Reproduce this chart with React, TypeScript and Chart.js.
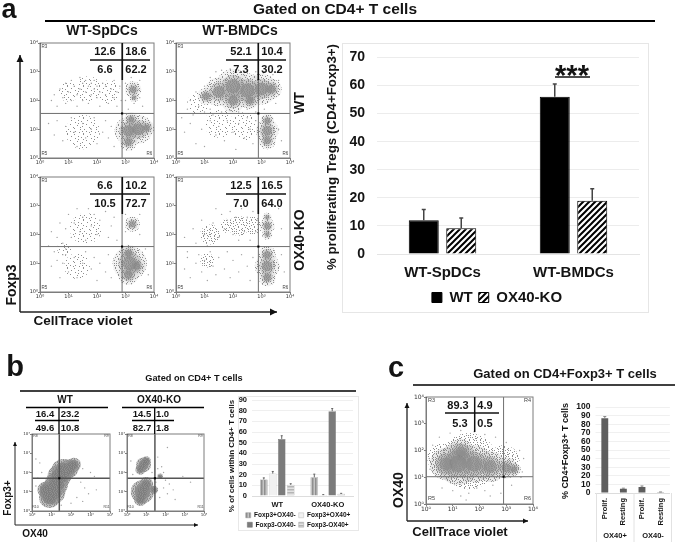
import React, { useEffect, useRef } from "react";
import { Chart, registerables } from "chart.js";
Chart.register(...registerables);

const decadeLabels = ["10⁰", "10¹", "10²", "10³", "10⁴"];

// ---- panel a bar chart
const aCats = ["WT-SpDCs", "WT-BMDCs"];
const aWT = [12, 56];
const aKO = [9.2, 19];
const aWTErr = [3.8, 4.5];
const aKOErr = [3.6, 4.2];

// ---- panel b bar chart
const bCats = ["WT", "OX40-KO"];
const bPosNeg = [15.5, 17.5];
const bPosPos = [21, 1];
const bNegNeg = [53.5, 79.5];
const bNegPos = [10.5, 2];
const bPosNegErr = [1.5, 3];
const bPosPosErr = [2, 0.3];
const bNegNegErr = [3, 2.5];
const bNegPosErr = [1, 0.5];

// ---- panel c bar chart
const cCats = ["Prolif.", "Resting", "Prolif.", "Resting"];
const cVals = [87, 5, 7, 1];
const cErr = [2, 0.6, 1.2, 0.2];

// ---- flow plots: [log x, log y] sparse events, [log x, log y, spread] populations
const a1Dots = [[.4,2.0],[.5,2.2],[.6,1.8],[.7,2.4],[.8,2.1],[.9,1.9],[.9,2.6],[1.0,2.3],[1.1,2.7],[1.1,2.0],[1.2,2.5],[1.3,1.8],[1.3,2.2],[1.4,2.8],[1.4,2.4],[1.5,2.6],[1.5,2.0],[1.6,2.3],[1.6,2.7],[1.7,2.5],[1.7,1.9],[1.8,2.2],[1.8,2.6],[1.9,2.4],[1.9,2.7],[2.0,2.1],[2.0,2.5],[2.1,2.3],[2.1,1.8],[2.2,2.6],[2.3,2.2],[2.3,2.5],[2.4,1.9],[2.5,2.4],[2.6,2.1],[2.6,2.7],[2.7,2.3],[2.7,1.8],[2.8,2.5],[2.85,2.0],[3.0,2.6],[3.0,2.0],[3.1,1.7],[3.2,2.8],[3.3,1.9],[3.5,2.7],[3.5,2.1],[3.6,1.8],[.3,1.2],[.5,.8],[.6,1.3],[.8,.6],[.9,1.1],[1.1,1.4],[1.2,.9],[1.3,.4],[1.5,1.2],[1.6,.7],[1.8,1.0],[1.9,1.4],[2.0,.5],[2.2,.9],[2.3,1.3],[2.4,.7],[2.5,1.1],[2.6,.4]];
const a1Pops = [[3.27,2.38,.24],[3.3,2.1,.13],[3.1,.95,.4],[3.45,1.0,.42],[3.75,1.05,.22],[3.1,.55,.25],[3.2,1.35,.2]];
const a1Faint = [[1.7,2.4,.45],[1.0,2.3,.35],[2.4,2.3,.4],[1.5,.9,.6]];
const a2Dots = [[.2,1.4],[.4,1.7],[.5,2.0],[.6,1.5],[.7,2.3],[.8,1.8],[.9,2.1],[1.0,1.6],[1.0,2.5],[1.1,2.0],[1.2,1.7],[1.2,2.8],[1.4,3.0],[1.6,3.05],[1.9,3.1],[2.2,3.05],[2.5,3.0],[2.8,3.0],[3.1,3.0],[3.4,2.9],[3.6,2.7],[3.6,2.2],[3.5,1.9],[1.3,1.5],[1.6,1.6],[1.9,1.65],[2.2,1.6],[2.5,1.7],[2.8,1.6],[3.1,1.7],[.3,.9],[.5,1.2],[.7,.5],[.9,1.0],[1.0,.4],[1.2,1.3],[1.4,.8],[1.5,1.1],[1.7,.6],[1.8,1.3],[2.0,.9],[2.1,.3],[2.2,1.2],[2.4,.7],[2.5,1.4],[2.6,1.0],[2.7,.5],[2.8,1.3],[3.6,1.0],[3.7,.6]];
const a2Pops = [[2.0,2.5,.5],[1.5,2.3,.42],[2.5,2.35,.5],[3.0,2.4,.45],[3.35,2.4,.3],[2.0,2.0,.35],[1.05,2.15,.25],[2.6,2.0,.25],[3.2,.6,.25],[3.2,.95,.33],[3.2,1.3,.2]];
const a2Faint = [[1.5,1.2,.5],[.8,1.9,.4],[2.4,1.1,.5]];
const a3Dots = [[.3,1.6],[.4,2.1],[.5,1.4],[.6,1.9],[.7,2.4],[.8,1.3],[.8,1.7],[.9,1.5],[.9,2.2],[1.0,2.7],[1.1,1.9],[1.2,2.4],[1.3,2.9],[1.4,2.1],[1.5,2.6],[1.6,1.8],[1.7,2.9],[1.8,2.3],[1.9,2.7],[2.0,2.0],[2.1,2.5],[2.3,2.8],[2.4,1.9],[2.5,2.3],[2.6,2.6],[2.7,1.8],[3.0,2.1],[3.0,2.7],[3.5,2.0],[3.5,2.7],[.4,.9],[.6,1.1],[.7,.5],[.8,1.0],[.9,1.3],[1.0,.7],[1.2,1.2],[1.3,.5],[1.5,1.0],[1.6,1.4],[1.8,.8],[1.9,1.2],[2.0,.4],[2.1,1.0],[2.3,.7],[2.4,1.3],[2.5,.5],[2.6,1.1],[3.7,1.5],[3.8,.6]];
const a3Pops = [[3.24,2.36,.22],[3.15,1.0,.5],[3.1,.6,.3],[3.1,1.35,.25],[3.4,.9,.25]];
const a3Faint = [[1.6,2.2,.55],[1.3,.9,.45],[.85,1.5,.25]];
const a4Dots = [[.3,1.9],[.4,1.4],[.6,2.2],[.7,1.7],[.9,2.5],[1.0,2.0],[1.1,1.6],[1.3,2.4],[1.4,2.9],[1.5,1.9],[1.6,2.7],[1.7,2.2],[1.8,2.5],[1.9,2.8],[2.0,2.0],[2.1,2.6],[2.2,1.8],[2.3,2.9],[2.4,2.1],[2.5,2.6],[2.6,1.8],[2.7,2.8],[2.8,2.1],[2.85,2.5],[3.6,2.9],[3.7,2.2],[.3,.8],[.4,1.2],[.5,.5],[.7,1.0],[.8,1.3],[.9,.7],[1.0,1.1],[1.1,.4],[1.2,1.4],[1.3,.9],[1.4,.6],[1.5,1.2],[1.7,.8],[1.8,1.4],[1.9,.5],[2.0,1.1],[2.2,.7],[2.3,1.3],[2.5,.9],[2.6,.4],[2.7,1.2],[3.7,1.3],[3.8,.7]];
const a4Pops = [[3.2,2.3,.22],[3.2,2.6,.13],[3.2,2.0,.15],[3.2,.9,.36],[3.2,.5,.25],[3.2,1.3,.25]];
const a4Faint = [[2.2,2.3,.35],[2.7,2.3,.32],[1.8,2.3,.25],[1.1,1.1,.25],[1.2,2.0,.35]];
const b1Dots = [[.2,2.7],[.4,2.5],[.5,2.0],[2.5,1.5],[2.7,1.2],[2.9,.9],[2.3,.7],[2.6,.5],[3.3,1.1],[3.0,2.0],[3.2,1.8],[2.6,2.2],[1.5,.3],[2.0,.4],[.3,1.7],[.2,1.3]];
const b1Pops = [[.9,.7,.45],[1.05,1.0,.55],[1.25,1.4,.5],[1.4,1.8,.5],[1.6,2.1,.5],[1.9,2.2,.4],[2.15,2.4,.3],[.7,1.1,.35]];
const b2Dots = [[1.6,2.8],[2.1,3.3],[1.8,2.3],[1.9,2.0],[2.0,1.6],[1.9,1.2],[2.1,.9],[1.7,.7],[2.2,1.4],[2.4,1.1],[2.5,.6],[3.3,1.5],[2.9,1.8],[1.5,1.5],[.2,2.6],[.3,1.9],[1.3,2.0],[1.6,2.2]];
const b2Pops = [[.86,2.4,.32],[.7,2.15,.22],[1.0,2.6,.2],[.8,1.0,.5],[1.0,1.4,.3],[.7,.6,.28],[1.72,1.8,.12],[1.4,1.1,.18]];
const cDots = [[.25,2.2],[.5,2.5],[.6,.6],[1.0,.5],[1.3,.3],[1.6,.4],[1.9,.6],[2.2,.5],[2.5,.7],[2.8,.4],[3.2,.7],[3.6,1.2],[3.65,1.7],[3.5,2.0],[3.0,2.3],[2.6,2.5],[2.2,2.6],[1.8,2.7],[1.3,2.75],[.9,2.65],[.15,1.3],[.12,1.7],[3.55,1.0],[1.5,.15],[2.4,.3]];
const cPops = [[1.2,1.5,.65],[.75,1.5,.5],[1.8,1.5,.58],[2.4,1.4,.48],[3.0,1.35,.33],[3.3,1.3,.2],[1.3,1.95,.4]];
const cFaint = [[1.6,1.6,1.05],[.6,1.7,.55],[2.9,1.6,.6]];

// ---- numbers printed over the flow plots (UL, UR, LL, LR)
const aPercents = [["12.6","18.6","6.6","62.2"],["52.1","10.4","7.3","30.2"],["6.6","10.2","10.5","72.7"],["12.5","16.5","7.0","64.0"]];
const bPercents = [["16.4","23.2","49.6","10.8"],["14.5","1.0","82.7","1.8"]];
const cPercents = ["89.3","4.9","5.3","0.5"];

const FONT = '"Liberation Sans", Arial, sans-serif';
const INK = "#141414";

// grain texture used to fill a population: digit = lowest density level at which that pixel is set
const GRAIN = [
  "1.3.2..4.1.3..2.",
  "..4..3.2...4.3..",
  ".2..1...3.2..1.4",
  "3..4.2.1..4.3...",
  ".1...3..4..2.4.2",
  "4.2.1..3.1...3..",
  "..3..4.2..3.1..4",
  ".4.1...3.4..2.3.",
  "2..3.2..1..3..4.",
  ".3..4.1.3.2.4..1",
  "1.2...3..4...2.3",
  "..4.3.1.2.1.3...",
  "3...2..4..3..4.2",
  ".1.4..3.1.2.1...",
  "2..3.1..3..4.3.1",
  ".4..2.4..1...2..",
];

function grain(level: number, wash: number) {
  const c = document.createElement("canvas");
  c.width = 16; c.height = 16;
  const g = c.getContext("2d")!;
  g.fillStyle = `rgba(125,125,125,${wash})`;
  g.fillRect(0, 0, 16, 16);
  g.fillStyle = "#8e8e8e";
  GRAIN.forEach((row, y) => row.split("").forEach((ch, x) => {
    if (ch !== "." && Number(ch) <= level) g.fillRect(x, y, 1, 1);
  }));
  return g.createPattern(c, "repeat")!;
}

function pattern(kind: string, fg: string, bg: string) {
  const c = document.createElement("canvas");
  const size = kind === "diag" ? 6 : 3;
  c.width = size; c.height = size;
  const g = c.getContext("2d")!;
  g.fillStyle = bg; g.fillRect(0, 0, size, size);
  g.strokeStyle = fg;
  if (kind === "diag") {
    g.lineWidth = 2;
    g.beginPath();
    g.moveTo(-1, 7); g.lineTo(7, -1);
    g.moveTo(-1, 1); g.lineTo(1, -1);
    g.moveTo(5, 7); g.lineTo(7, 5);
    g.stroke();
  } else if (kind === "v") {
    g.fillStyle = fg; g.fillRect(0, 0, 1.5, size);
  } else {
    g.fillStyle = fg; g.fillRect(0, 0, size, 1.5);
  }
  return g.createPattern(c, "repeat")!;
}

const errorBars = {
  id: "errorBars",
  afterDatasetsDraw(chart: any) {
    const g = chart.ctx;
    const y = chart.scales.y;
    chart.data.datasets.forEach((ds: any, i: number) => {
      if (!ds.errors) return;
      chart.getDatasetMeta(i).data.forEach((bar: any, j: number) => {
        const top = y.getPixelForValue(ds.data[j] + ds.errors[j]);
        const base = y.getPixelForValue(ds.data[j]);
        g.save();
        g.strokeStyle = ds.errorColor; g.lineWidth = ds.errorWidth;
        g.beginPath();
        g.moveTo(bar.x, base); g.lineTo(bar.x, top);
        g.moveTo(bar.x - ds.errorCap, top); g.lineTo(bar.x + ds.errorCap, top);
        g.stroke();
        g.restore();
      });
    });
  },
};

const frame = {
  id: "frame",
  afterDatasetsDraw(chart: any) {
    const a = chart.chartArea, g = chart.ctx;
    g.save(); g.strokeStyle = "#7d7d7d"; g.lineWidth = 1;
    g.strokeRect(a.left, a.top, a.right - a.left, a.bottom - a.top);
    g.restore();
  },
};

function ChartCanvas({ left, top, width, height, make }: any) {
  const ref = useRef<HTMLCanvasElement>(null);
  useEffect(() => {
    const chart = new Chart(ref.current!, make());
    return () => chart.destroy();
  }, []);
  return (
    <div style={{ position: "absolute", left, top, width, height }}>
      <canvas ref={ref} width={width} height={height} style={{ display: "block", width, height }} />
    </div>
  );
}

const spareRightAxis = (w: number) => ({
  position: "right", display: true, afterFit: (s: any) => { s.width = w; },
  grid: { display: false, drawTicks: false }, border: { display: false }, ticks: { display: false },
});

function flowConfig(dots: number[][], pops: number[][], faint: number[][], gate: number[], size: number, density: number, faintLevel: number, tickSize: number, gateWidth: number, gateColor: string, pad: any) {
  const perDecade = size / 4;
  const layer = (list: number[][], f: number, fill: any) => ({
    type: "bubble",
    data: list.map(([x, y, s]) => ({ x, y, r: s * perDecade * f })),
    backgroundColor: fill,
    borderWidth: 0,
  });
  const fills = [
    [grain(2, 0.1), grain(3, 0.28), grain(4, 0.55)],
    [grain(3, 0.16), grain(4, 0.32), grain(4, 0.5)],
    [grain(4, 0.5), grain(4, 0.75), grain(4, 0.9)],
  ][density];
  return {
    type: "scatter",
    data: {
      datasets: [
        { data: [{ x: gate[0], y: gate[1] }, { x: 0, y: 4 }], pointStyle: "rect", pointRadius: 1.5, backgroundColor: "#000", borderWidth: 0 },
        { data: [{ x: gate[0], y: 0 }, { x: gate[0], y: 4 }], showLine: true, pointRadius: 0, borderColor: gateColor, borderWidth: gateWidth },
        { data: [{ x: 0, y: gate[1] }, { x: 4, y: gate[1] }], showLine: true, pointRadius: 0, borderColor: gateColor, borderWidth: gateWidth },
        { data: dots.map(([x, y]) => ({ x, y })), pointRadius: 0.7, backgroundColor: "#a2a2a2", borderWidth: 0 },
        layer(pops, 0.5, fills[2]), layer(pops, 0.8, fills[1]), layer(pops, 1.2, fills[0]),
        layer(faint, 1, grain(faintLevel, 0)),
      ],
    },
    plugins: [frame],
    options: {
      animation: false, responsive: false,
      layout: { autoPadding: false, padding: { top: pad.top, right: pad.right, left: 0, bottom: 0 } },
      plugins: { legend: { display: false }, tooltip: { enabled: false } },
      scales: {
        x: { type: "linear", min: 0, max: 4, afterFit: (s: any) => { s.height = pad.bottom; },
          grid: { drawOnChartArea: false, tickLength: 2, color: "#7d7d7d" }, border: { color: "#7d7d7d" },
          ticks: { stepSize: 1, autoSkip: false, maxRotation: 0, padding: 0, color: "#333", font: { size: tickSize, family: "DejaVu Sans" }, callback: (v: number) => decadeLabels[v] } },
        y: { type: "linear", min: 0, max: 4, afterFit: (s: any) => { s.width = pad.left; },
          grid: { drawOnChartArea: false, tickLength: 2, color: "#7d7d7d" }, border: { color: "#7d7d7d" },
          ticks: { stepSize: 1, autoSkip: false, padding: 0, color: "#333", font: { size: tickSize, family: "DejaVu Sans" }, callback: (v: number) => decadeLabels[v] } },
      },
    },
  };
}

function Flow({ x, y, w, h, dots, pops, faint = [], gate, density = 0, faintLevel = 1, tick = 5, gateWidth = 1, gateColor = "#6f6f6f" }: any) {
  const pad = { top: 5, right: 8, left: 14, bottom: 12 };
  return (
    <ChartCanvas left={x - pad.left} top={y - pad.top} width={w + pad.left + pad.right} height={h + pad.top + pad.bottom}
      make={() => flowConfig(dots, pops, faint, gate, w, density, faintLevel, tick, gateWidth, gateColor, pad)} />
  );
}

function Txt({ x, y, s, size, rot = 0, weight = 700, color = INK, family = FONT }: any) {
  return (
    <div style={{ position: "absolute", left: x, top: y, transform: `translate(-50%,-50%) rotate(${rot}deg)`, font: `${weight} ${size}px ${family}`, color, whiteSpace: "nowrap", lineHeight: 1 }}>{s}</div>
  );
}

function barA() {
  return {
    type: "bar",
    data: {
      labels: aCats,
      datasets: [
        { label: "WT", data: aWT, errors: aWTErr, backgroundColor: "#000", borderColor: "#000", borderWidth: 1, categoryPercentage: 0.5725, barPercentage: 0.8, errorColor: "#444", errorWidth: 1.5, errorCap: 2 },
        { label: "OX40-KO", data: aKO, errors: aKOErr, backgroundColor: pattern("diag", "#000", "#fff"), borderColor: "#000", borderWidth: 1, categoryPercentage: 0.5725, barPercentage: 0.8, errorColor: "#444", errorWidth: 1.5, errorCap: 2 },
      ],
    },
    plugins: [errorBars],
    options: {
      animation: false, responsive: false,
      layout: { autoPadding: false, padding: { top: 3, right: 0, left: 0, bottom: 0 } },
      plugins: { tooltip: { enabled: false }, legend: { position: "bottom", labels: { color: INK, boxWidth: 10, boxHeight: 10, padding: 6, font: { size: 15, weight: "bold", family: FONT } } } },
      scales: {
        x: { afterFit: (s: any) => { s.height = 30; }, grid: { display: false, drawTicks: false }, border: { color: "#e4e4e4" }, ticks: { color: INK, padding: 10, font: { size: 15, weight: "bold", family: FONT } } },
        y: { min: 0, max: 70, afterFit: (s: any) => { s.width = 55; }, grid: { color: "#ececec", tickLength: 0 }, border: { display: false }, ticks: { stepSize: 10, color: INK, padding: 12, font: { size: 14, weight: "bold", family: FONT } } },
        y2: spareRightAxis(33),
      },
    },
  };
}

function barB() {
  const common = { categoryPercentage: 0.71, barPercentage: 0.85, borderWidth: 0.5, errorColor: "#666", errorWidth: 1, errorCap: 1 };
  return {
    type: "bar",
    data: {
      labels: bCats,
      datasets: [
        { ...common, label: "Foxp3+OX40-", data: bPosNeg, errors: bPosNegErr, backgroundColor: pattern("v", "#8f8f8f", "#c4c4c4"), borderColor: "#8a8a8a" },
        { ...common, label: "Foxp3+OX40+", data: bPosPos, errors: bPosPosErr, backgroundColor: "#f1f1f1", borderColor: "#bbbbbb" },
        { ...common, label: "Foxp3-OX40-", data: bNegNeg, errors: bNegNegErr, backgroundColor: "#7b7b7b", borderColor: "#6d6d6d" },
        { ...common, label: "Foxp3-OX40+", data: bNegPos, errors: bNegPosErr, backgroundColor: pattern("h", "#b5b5b5", "#e2e2e2"), borderColor: "#a5a5a5" },
      ],
    },
    plugins: [errorBars],
    options: {
      animation: false, responsive: false,
      layout: { autoPadding: false, padding: { top: 10, right: 0, left: 0, bottom: 0 } },
      plugins: { tooltip: { enabled: false }, legend: { position: "bottom", labels: { color: INK, boxWidth: 5, boxHeight: 5, padding: 3, font: { size: 6.5, weight: "bold", family: FONT } } } },
      scales: {
        x: { afterFit: (s: any) => { s.height = 13; }, grid: { display: false, drawTicks: false }, border: { color: "#dddddd" }, ticks: { color: INK, padding: 4, font: { size: 7.5, weight: "bold", family: FONT } } },
        y: { min: 0, max: 90, afterFit: (s: any) => { s.width = 30; }, grid: { color: "#efefef", tickLength: 0 }, border: { display: false }, ticks: { stepSize: 10, autoSkip: false, color: INK, padding: 5, font: { size: 7.5, weight: "bold", family: FONT } } },
        y2: spareRightAxis(21),
      },
    },
  };
}

function barC() {
  return {
    type: "bar",
    data: {
      labels: cCats,
      datasets: [
        { label: "% CD4+Foxp3+ T cells", data: cVals, errors: cErr, backgroundColor: "#5e5e5e", borderWidth: 0, categoryPercentage: 0.37, barPercentage: 1, errorColor: "#888", errorWidth: 1, errorCap: 1.5 },
      ],
    },
    plugins: [errorBars],
    options: {
      animation: false, responsive: false,
      layout: { autoPadding: false, padding: { top: 10, right: 3.5, left: 0, bottom: 0 } },
      plugins: { tooltip: { enabled: false }, legend: { display: false } },
      scales: {
        x: { afterFit: (s: any) => { s.height = 49; }, grid: { display: false, drawTicks: false }, border: { color: "#dcdcdc" }, ticks: { color: INK, padding: 5, minRotation: 90, maxRotation: 90, autoSkip: false, font: { size: 7.5, weight: "bold", family: FONT } } },
        y: { min: 0, max: 100, afterFit: (s: any) => { s.width = 25.5; }, grid: { color: "#f0f0f0", tickLength: 0 }, border: { display: false }, ticks: { stepSize: 10, autoSkip: false, color: INK, padding: 5, font: { size: 8.5, weight: "bold", family: FONT } } },
      },
    },
  };
}

const Arrow = ({ x1, y1, x2, y2, w = 1.5, head = 3.5 }: any) => {
  const up = x1 === x2;
  const pts = up ? `${x2 - head},${y2 + head * 2} ${x2 + head},${y2 + head * 2} ${x2},${y2}` : `${x2 - head * 2},${y2 - head} ${x2 - head * 2},${y2 + head} ${x2},${y2}`;
  return (
    <g>
      <line x1={x1} y1={y1} x2={x2} y2={y2} stroke="#222" strokeWidth={w} />
      <polygon points={pts} fill="#111" />
    </g>
  );
};

const aPlots = [
  { x: 40, y: 43, dots: a1Dots, pops: a1Pops, faint: a1Faint, gate: [2.88, 1.55], level: 1 },
  { x: 176, y: 43, dots: a2Dots, pops: a2Pops, faint: a2Faint, gate: [2.89, 1.55], level: 1 },
  { x: 40, y: 177, dots: a3Dots, pops: a3Pops, faint: a3Faint, gate: [2.88, 1.58], level: 1 },
  { x: 176, y: 177, dots: a4Dots, pops: a4Pops, faint: a4Faint, gate: [2.89, 1.58], level: 2 },
];

export default function App() {
  useEffect(() => { document.body.style.margin = "0"; document.body.style.background = "#fff"; }, []);
  const corner = (x: number, y: number, w: number, h: number, n: string[], size: number) => (
    <>
      <Txt x={x + size} y={y + size * 0.8} s={n[0]} size={size} weight={400} color="#444" />
      <Txt x={x + w - size} y={y + size * 0.8} s={n[1]} size={size} weight={400} color="#444" />
      <Txt x={x + size} y={y + h - size * 0.9} s={n[2]} size={size} weight={400} color="#444" />
      <Txt x={x + w - size} y={y + h - size * 0.9} s={n[3]} size={size} weight={400} color="#444" />
    </>
  );
  return (
    <div style={{ position: "absolute", left: 0, top: 0, width: 675, height: 542, overflow: "hidden", background: "#fff", filter: "blur(0.5px)" }}>
      <ChartCanvas left={322} top={37} width={350} height={278} make={barA} />
      <ChartCanvas left={222} top={390} width={152} height={148} make={barB} />
      <ChartCanvas left={570} top={397} width={105} height={145} make={barC} />

      {aPlots.map((p, i) => <Flow key={i} x={p.x} y={p.y} w={114} h={115} dots={p.dots} pops={p.pops} faint={p.faint} faintLevel={p.level} gate={p.gate} />)}
      <Flow x={32} y={434} w={78} h={77} dots={b1Dots} pops={b1Pops} gate={[1.4, 1.7]} density={2} tick={4} gateColor="#555" gateWidth={1.5} />
      <Flow x={127} y={434} w={77} h={77} dots={b2Dots} pops={b2Pops} gate={[1.45, 1.7]} density={2} tick={4} gateColor="#555" gateWidth={1.5} />
      <Flow x={426} y={397} w={107} h={107} dots={cDots} pops={cPops} faint={cFaint} faintLevel={2} gate={[2.9, 1.02]} density={1} tick={6} />

      <svg width={675} height={542} style={{ position: "absolute", left: 0, top: 0 }}>
        <line x1={45} y1={21} x2={655} y2={21} stroke="#000" strokeWidth={2} />
        <rect x={342.5} y={43.5} width={306} height={269} fill="none" stroke="#e6e6e6" />
        <rect x={238.5} y={396.5} width={120} height={134} fill="none" stroke="#e8e8e8" />
        <Arrow x1={20} y1={312} x2={20} y2={55} />
        <Arrow x1={20} y1={312} x2={277} y2={312} />
        {aPlots.map((p, i) => (
          <g key={i} stroke="#111">
            <line x1={p.x + 50} y1={p.y + 17} x2={p.x + 110} y2={p.y + 17} strokeWidth={1.6} />
            <line x1={p.x + 82.3} y1={p.y} x2={p.x + 82.3} y2={p.y + 37} strokeWidth={1.6} />
          </g>
        ))}
        <line x1={20} y1={391} x2={356} y2={391} stroke="#000" strokeWidth={1.5} />
        <line x1={26} y1={407.5} x2={108} y2={407.5} stroke="#000" strokeWidth={1.3} />
        <line x1={122} y1={407.5} x2={204} y2={407.5} stroke="#000" strokeWidth={1.3} />
        <line x1={35} y1={420.5} x2={79} y2={420.5} stroke="#000" strokeWidth={1.3} />
        <line x1={132} y1={420.5} x2={174} y2={420.5} stroke="#000" strokeWidth={1.3} />
        <line x1={59} y1={408} x2={59} y2={434} stroke="#000" strokeWidth={1.3} />
        <line x1={154.7} y1={408} x2={154.7} y2={434} stroke="#000" strokeWidth={1.3} />
        <Arrow x1={15} y1={525} x2={15} y2={442} w={1} head={2} />
        <Arrow x1={15} y1={525} x2={198} y2={525} w={1} head={2} />
        <line x1={413} y1={385} x2={675} y2={385} stroke="#000" strokeWidth={1.5} />
        <line x1={445} y1={413} x2={499} y2={413} stroke="#111" strokeWidth={1.5} />
        <line x1={474.7} y1={397} x2={474.7} y2={432} stroke="#111" strokeWidth={1.5} />
        <Arrow x1={407} y1={521} x2={407} y2={403} w={1.3} head={2.5} />
        <Arrow x1={407} y1={521} x2={528} y2={521} w={1.3} head={2.5} />
        <line x1={555} y1={77} x2={590} y2={77} stroke="#111" strokeWidth={1.5} />
        <line x1={596.5} y1={493} x2={596.5} y2={542} stroke="#e2e2e2" />
        <line x1={634} y1={493} x2={634} y2={542} stroke="#e2e2e2" />
        <line x1={671.5} y1={493} x2={671.5} y2={542} stroke="#e2e2e2" />
      </svg>

      <Txt x={9} y={9} s="a" size={27} />
      <Txt x={335} y={9} s="Gated on CD4+ T cells" size={15.5} />
      <Txt x={102} y={30} s="WT-SpDCs" size={14} />
      <Txt x={240} y={30} s="WT-BMDCs" size={14} />
      <Txt x={299} y={103} s="WT" size={14} rot={-90} />
      <Txt x={299} y={240} s="OX40-KO" size={14} rot={-90} />
      <Txt x={11} y={285} s="Foxp3" size={14} rot={-90} />
      <Txt x={83} y={321} s="CellTrace violet" size={13.5} />
      {aPlots.map((p, i) => (
        <React.Fragment key={i}>
          <Txt x={p.x + 65} y={p.y + 7.5} s={aPercents[i][0]} size={11} />
          <Txt x={p.x + 96} y={p.y + 7.5} s={aPercents[i][1]} size={11} />
          <Txt x={p.x + 65} y={p.y + 26} s={aPercents[i][2]} size={11} />
          <Txt x={p.x + 96} y={p.y + 26} s={aPercents[i][3]} size={11} />
          {corner(p.x, p.y, 114, 115, ["R3", "", "R5", "R6"], 4.5)}
        </React.Fragment>
      ))}
      <Txt x={332} y={157} s="% proliferating Tregs (CD4+Foxp3+)" size={13.3} rot={-90} />
      <Txt x={572} y={75} s="***" size={29} />

      <Txt x={15} y={366} s="b" size={29} />
      <Txt x={194} y={379} s="Gated on CD4+ T cells" size={9.2} />
      <Txt x={65} y={400} s="WT" size={10} />
      <Txt x={159} y={400} s="OX40-KO" size={10} />
      {bPercents.map((n, i) => {
        const a = i === 0 ? 45 : 142, b = i === 0 ? 70 : 162.5;
        return (
          <React.Fragment key={i}>
            <Txt x={a} y={413.5} s={n[0]} size={9.5} />
            <Txt x={b} y={413.5} s={n[1]} size={9.5} />
            <Txt x={a} y={427.5} s={n[2]} size={9.5} />
            <Txt x={b} y={427.5} s={n[3]} size={9.5} />
          </React.Fragment>
        );
      })}
      {corner(32, 434, 78, 77, ["R8", "R9", "R10", "R11"], 3.5)}
      {corner(127, 434, 77, 77, ["R8", "R9", "R10", "R11"], 3.5)}
      <Txt x={8} y={498} s="Foxp3+" size={10} rot={-90} />
      <Txt x={35} y={534} s="OX40" size={10} />
      <Txt x={232} y={456} s="% of cells within CD4+ T cells" size={8} rot={-90} />

      <Txt x={396} y={367} s="c" size={29} />
      <Txt x={565} y={373} s="Gated on CD4+Foxp3+ T cells" size={13} />
      <Txt x={458} y={405} s={cPercents[0]} size={11} />
      <Txt x={485} y={405} s={cPercents[1]} size={11} />
      <Txt x={460} y={423} s={cPercents[2]} size={11} />
      <Txt x={485} y={423} s={cPercents[3]} size={11} />
      {corner(426, 397, 107, 107, ["R3", "R4", "R5", "R6"], 5.5)}
      <Txt x={398} y={490} s="OX40" size={14} rot={-90} />
      <Txt x={460} y={531} s="CellTrace violet" size={13} />
      <Txt x={565} y={451} s="% CD4+Foxp3+ T cells" size={9} rot={-90} />
      <Txt x={615} y={536} s="OX40+" size={7.5} />
      <Txt x={653} y={536} s="OX40-" size={7.5} />
    </div>
  );
}
